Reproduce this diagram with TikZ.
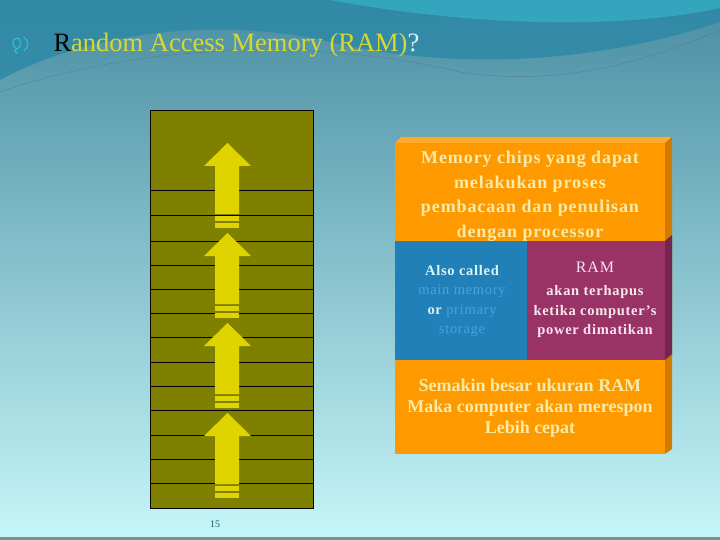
\documentclass[tikz,border=0pt]{standalone}
\usepackage{fontspec}
\setmainfont{Liberation Serif}
\newfontfamily\spacedserif[LetterSpace=5]{Liberation Serif}
\usetikzlibrary{positioning}

\definecolor{bgtop}{HTML}{4A8EA2}
\definecolor{bgmid}{HTML}{80A6A8}
\definecolor{bgbot}{HTML}{C6F6F9}
\definecolor{waveteal}{HTML}{2C88A6}
\definecolor{wavecyan}{HTML}{34BCD2}
\definecolor{olivebar}{HTML}{808000}
\definecolor{arrowyel}{HTML}{E0D400}
\definecolor{boxorange}{HTML}{FF9900}
\definecolor{boxside}{HTML}{D27A00}
\definecolor{boxtop}{HTML}{FFAA2A}
\definecolor{cellblue}{HTML}{2280B8}
\definecolor{cellpurple}{HTML}{993366}
\definecolor{purpleside}{HTML}{74264C}
\definecolor{chiptext}{HTML}{F8EBA8}
\definecolor{softblue}{HTML}{3FA6E0}
\definecolor{pinkwhite}{HTML}{F8E6EE}
\definecolor{titleyel}{HTML}{D8D830}
\definecolor{qmark}{HTML}{D8F4F4}
\definecolor{bulletcyan}{HTML}{30B8D8}
\definecolor{numteal}{HTML}{1A5868}

\begin{document}
\begin{tikzpicture}[x=1pt,y=-1pt,
  boxtext/.style={font=\spacedserif\bfseries\fontsize{18}{24.5}\selectfont,text=chiptext,align=center},
  celltext/.style={font=\spacedserif\bfseries\fontsize{14.5}{19.5}\selectfont,align=center}]
  \useasboundingbox (0,0) rectangle (720,540);
  % background
  \shade[top color=bgtop,middle color=bgmid,bottom color=bgbot] (0,0) rectangle (720,540);
  \fill[waveteal,opacity=0.8] (0,0) -- (720,0) -- (720,22)
    .. controls (600,62) and (460,72) .. (330,42)
    .. controls (210,14) and (80,36) .. (0,80) -- cycle;
  \fill[wavecyan,opacity=0.55] (330,0) .. controls (470,26) and (620,30) .. (720,8) -- (720,0) -- cycle;
  \draw[gray!70!black,opacity=0.4] (0,92) .. controls (150,40) and (330,40) .. (460,72)
    .. controls (560,88) and (650,60) .. (720,30);
  \fill[gray!60!black,opacity=0.6] (0,537) rectangle (720,540);

  % title
  \draw[bulletcyan,line width=1.3] (17,49) .. controls (11,47) and (12,38) .. (17,38)
    .. controls (22,38) and (22,47) .. (17,49) .. controls (14,50) and (14,53) .. (18,53);
  \draw[bulletcyan,line width=1.3] (24,37) .. controls (29,40) and (29,48) .. (24,51);
  \node[anchor=base west,font=\fontsize{26.5}{30}\selectfont] (title) at (50,52)
    {\textcolor{black}{R}\textcolor{titleyel}{andom Access Memory (RAM)}\textcolor{qmark}{?}};

  % memory column
  \draw[fill=olivebar,line width=1] (150,111) rectangle (313,508);
  \foreach \y in {191,216,241,265,289,313,337,362,386,410,435,459,483}
    \draw[line width=1] (150,\y) -- (313,\y);
  \foreach \t in {143,233,323,413} {
    \fill[arrowyel] (227.5,\t) -- (251,\t+23) -- (239,\t+23) -- (239,\t+71)
      -- (215,\t+71) -- (215,\t+23) -- (204,\t+23) -- cycle;
    \fill[arrowyel] (215,\t+73) rectangle (239,\t+78);
    \fill[arrowyel] (215,\t+80) rectangle (239,\t+85);
  }
  \node[font=\fontsize{10}{10}\selectfont,text=numteal] (pagenum) at (215,524) {15};

  % RAM box
  \fill[boxtop] (395,143) -- (401,137) -- (672,137) -- (665,143) -- cycle;
  \fill[boxside] (665,143) -- (672,137) -- (672,449) -- (665,454) -- cycle;
  \fill[boxorange] (395,143) rectangle (665,454);
  \fill[cellblue] (395,241) rectangle (527,360);
  \fill[cellpurple] (527,241) rectangle (665,360);
  \fill[purpleside] (665,241) -- (672,235) -- (672,354) -- (665,360) -- cycle;

  \node[boxtext] (chips) at (530,196)
    {Memory chips yang dapat\\melakukan proses\\pembacaan dan penulisan\\dengan processor};
  \node[celltext,text=qmark] (called) at (462,301)
    {Also called\\\textcolor{softblue}{\mdseries main memory}\\or \textcolor{softblue}{\mdseries primary}\\\textcolor{softblue}{\mdseries storage}};
  \node[celltext,text=pinkwhite] (erased) at (595,300)
    {{\mdseries\fontsize{16}{16}\selectfont RAM}\\[4pt]akan terhapus\\ketika computer’s\\power dimatikan};
  \node[boxtext,font=\bfseries\fontsize{18}{21}\selectfont] (faster) at (530,408)
    {Semakin besar ukuran RAM\\Maka computer akan merespon\\Lebih cepat};
\end{tikzpicture}
\end{document}
